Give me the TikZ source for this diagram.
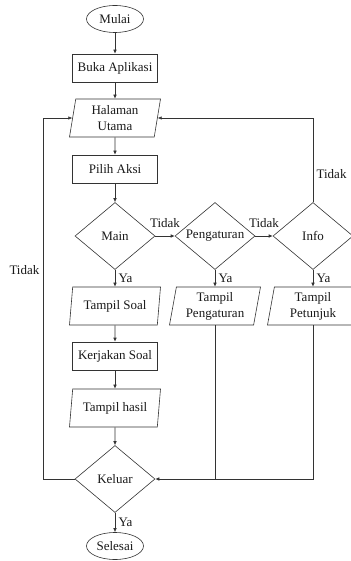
\documentclass[tikz,border=0pt]{standalone}
\usepackage{fontspec}
\setmainfont{Liberation Serif}
\usetikzlibrary{shapes.geometric,arrows.meta}

\begin{document}
\begin{tikzpicture}[x=1pt,y=-1pt,black!80,line width=0.6pt,
  every node/.style={font=\fontsize{13}{16}\selectfont,text=black!90},
  terminal/.style={draw,ellipse,minimum width=57pt,minimum height=27pt,inner sep=0pt},
  proses/.style={draw,rectangle,minimum width=85pt,minimum height=28pt,inner sep=1pt},
  io/.style={draw,trapezium,trapezium left angle=77,trapezium right angle=103,
    trapezium stretches body,minimum width=91pt,minimum height=38pt,inner sep=1pt,align=center},
  keputusan/.style={draw,diamond,aspect=1.2,minimum width=80pt,minimum height=67pt,inner sep=0pt},
  panah/.style={-{Latex[length=4pt,width=3.5pt]}}]
\useasboundingbox (0,0) rectangle (350,561);

\node[terminal] (mulai) at (115,19) {Mulai};
\node[proses] (buka) at (115,68) {Buka Aplikasi};
\node[io] (halaman) at (115,118) {Halaman\\Utama};
\node[proses] (pilih) at (115,169) {Pilih Aksi};
\node[keputusan] (main) at (115,236) {Main};
\node[keputusan] (pengaturan) at (215,236) {Pengaturan};
\node[keputusan] (info) at (313,236) {Info};
\node[io] (soal) at (115,306) {Tampil Soal};
\node[io] (tpengaturan) at (215,306) {Tampil\\Pengaturan};
\node[io] (petunjuk) at (313,306) {Tampil\\Petunjuk};
\node[proses] (kerjakan) at (115,356) {Kerjakan Soal};
\node[io] (hasil) at (115,408) {Tampil hasil};
\node[keputusan] (keluar) at (115,479) {Keluar};
\node[terminal] (selesai) at (115,546) {Selesai};

\coordinate (kiri) at (43,479);
\coordinate (gabung) at (tpengaturan |- keluar);

\draw[panah] (mulai) -- (buka);
\draw[panah] (buka) -- (halaman);
\draw[panah] (halaman) -- (pilih);
\draw[panah] (pilih) -- (main);
\draw[panah] (main) -- node[above=5pt]{Tidak} (pengaturan);
\draw[panah] (pengaturan) -- node[above=5pt]{Tidak} (info);
\draw[panah] (main) -- node[right]{Ya} (soal);
\draw[panah] (pengaturan) -- node[right]{Ya} (tpengaturan);
\draw[panah] (info) -- node[right]{Ya} (petunjuk);
\draw[panah] (soal) -- (kerjakan);
\draw[panah] (kerjakan) -- (hasil);
\draw[panah] (hasil) -- (keluar);
\draw[panah] (keluar) -- node[right]{Ya} (selesai);

\draw[panah] (info) |- node[pos=0.17,right]{Tidak} (halaman.east);
\draw[panah] (keluar.west) -- (kiri) |- node[pos=0.29,left]{Tidak} (halaman.west);
\draw (tpengaturan) -- (gabung);
\draw[panah] (petunjuk) |- (keluar);
\end{tikzpicture}
\end{document}
